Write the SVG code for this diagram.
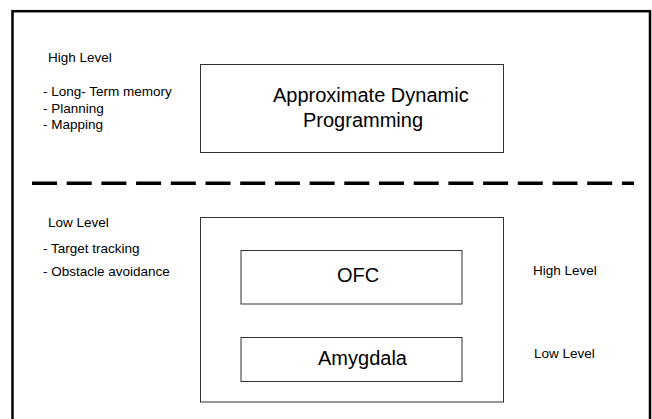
<svg xmlns="http://www.w3.org/2000/svg" width="652" height="419" viewBox="0 0 652 419">
<style>
.box{fill:#fff;stroke:#333;stroke-width:1}
.big{font-family:"Liberation Sans",Arial,sans-serif;font-size:20px;fill:#000}
.sm{font-family:"Liberation Sans",Arial,sans-serif;font-size:13.5px;fill:#000}
</style>
<rect width="652" height="419" fill="#fff"/>
<g id="frame"><rect x="12.5" y="11.2" width="637.5" height="430" fill="none" stroke="#000" stroke-width="2.5"/></g>
<g id="divider"><line x1="32" y1="183.2" x2="634" y2="183.2" stroke="#000" stroke-width="3.5" stroke-dasharray="25 9.7"/></g>
<g id="high-level-notes">
<text class="sm" x="48" y="62.3">High Level</text>
<text class="sm" x="43" y="96">- Long- Term memory</text>
<text class="sm" x="43" y="112.5">- Planning</text>
<text class="sm" x="43" y="129.3">- Mapping</text>
</g>
<g id="low-level-notes">
<text class="sm" x="48" y="227.3">Low Level</text>
<text class="sm" x="43" y="253.3">- Target tracking</text>
<text class="sm" x="43" y="276">- Obstacle avoidance</text>
</g>
<g id="adp">
<rect class="box" x="200.5" y="64.5" width="303" height="88"/>
<text class="big" x="273" y="101.7">Approximate Dynamic</text>
<text class="big" x="303" y="127">Programming</text>
</g>
<g id="low-container"><rect class="box" x="200.5" y="217.5" width="303" height="184.5"/></g>
<g id="ofc">
<rect class="box" x="241" y="250.5" width="221" height="53.5"/>
<text class="big" x="358" y="282.3" text-anchor="middle">OFC</text>
</g>
<g id="amygdala">
<rect class="box" x="241" y="337.5" width="221" height="44"/>
<text class="big" x="362.5" y="365" text-anchor="middle">Amygdala</text>
</g>
<g id="side-labels">
<text class="sm" x="533" y="275">High Level</text>
<text class="sm" x="534" y="358">Low Level</text>
</g>
<g id="connectors"></g>
</svg>
